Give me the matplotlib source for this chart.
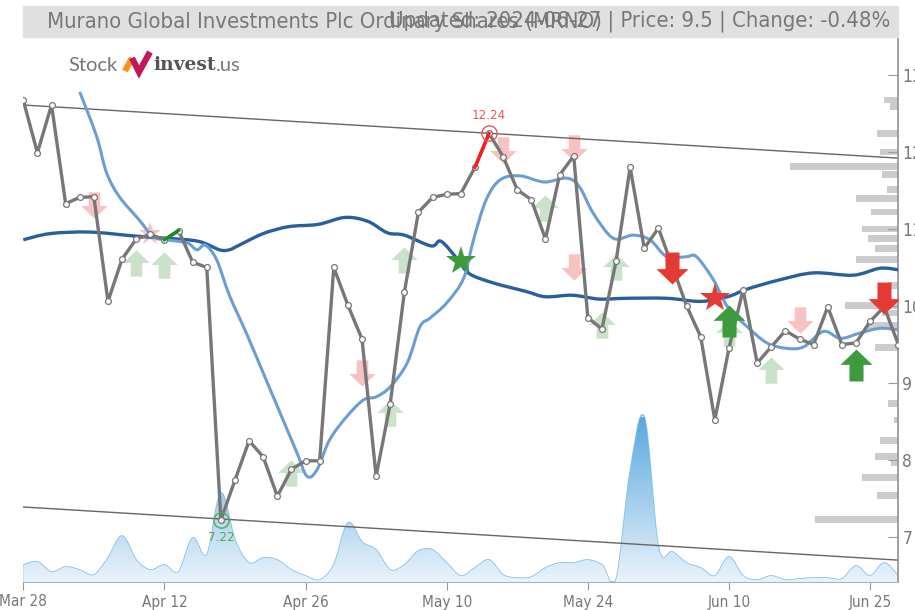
import numpy as np
import pandas as pd
import matplotlib
matplotlib.use('Agg')
import matplotlib.pyplot as plt
from matplotlib.path import Path
from matplotlib.patches import PathPatch, Rectangle
from matplotlib.lines import Line2D
from matplotlib.colors import LinearSegmentedColormap

# trading days on the chart (US market holidays removed)
dates = pd.bdate_range('2024-03-28', '2024-06-27')
dates = dates.drop(pd.to_datetime(['2024-03-29', '2024-05-27', '2024-06-19']))
tick_dates = ['2024-03-28', '2024-04-12', '2024-04-26', '2024-05-10',
              '2024-05-24', '2024-06-10', '2024-06-25']

close = [12.67, 11.99, 12.61, 11.33, 11.41, 11.42, 10.06, 10.61, 10.87, 10.93,
         10.86, 10.98, 10.57, 10.50, 7.22, 7.74, 8.25, 8.04, 7.53, 7.88,
         7.99, 7.99, 10.50, 10.01, 9.57, 7.79, 8.73, 10.18, 11.22, 11.41,
         11.45, 11.46, 11.80, 12.24, 11.94, 11.51, 11.38, 10.87, 11.70, 11.95,
         9.85, 9.70, 10.58, 11.80, 10.75, 11.01, 10.51, 10.00, 9.60, 8.52,
         9.45, 10.21, 9.26, 9.47, 9.68, 9.57, 9.50, 9.99, 9.50, 9.52,
         9.80, 9.99, 9.50]

# daily volume (relative units)
volume = [17, 20, 10, 15, 12, 7, 24, 46, 22, 12,
          17, 10, 44, 27, 89, 42, 19, 24, 22, 12,
          6, 2, 17, 59, 40, 32, 12, 17, 31, 32,
          19, 6, 14, 22, 7, 4, 5, 14, 19, 19,
          22, 17, 2, 110, 165, 35, 30, 19, 14, 6,
          25, 6, 2, 6, 2, 3, 4, 4, 3, 16,
          6, 19, 6]

# short moving average (sampled along the day index)
fast_x = [4.0, 5.2, 5.9, 6.8, 8.2, 9.2, 10.1, 11.6, 12.3, 12.9, 13.7, 14.6, 15.8,
          17.0, 18.2, 19.4, 20.1, 20.8, 21.7, 22.9, 24.1, 25.0, 26.0, 27.2, 28.1,
          28.8, 30.0, 31.2, 31.9, 32.8, 33.8, 35.2, 36.9, 38.5, 39.4, 40.4, 41.8,
          43.2, 44.4, 45.6, 47.0, 47.7, 48.9, 49.9, 51.3, 52.7, 54.1, 55.3, 56.7,
          57.9, 59.3, 60.7, 62.0]
fast_ma = [12.78, 12.20, 11.73, 11.42, 11.12, 10.90, 10.86, 10.82, 10.73, 10.79,
           10.60, 10.14, 9.65, 9.13, 8.61, 8.09, 7.79, 7.87, 8.26, 8.56, 8.78,
           8.82, 8.95, 9.26, 9.73, 9.84, 10.04, 10.36, 10.86, 11.38, 11.64, 11.69,
           11.61, 11.66, 11.55, 11.20, 10.88, 10.92, 10.86, 10.64, 10.64, 10.64,
           10.34, 9.99, 9.73, 9.52, 9.45, 9.47, 9.67, 9.58, 9.65, 9.71, 9.69]

# long moving average
slow_x = [0, 1.9, 4.7, 7.8, 10.1, 12.4, 13.9, 14.6, 15.3, 17.0, 18.8, 20.9, 22.8,
          24.4, 25.8, 27.0, 28.9, 29.6, 30.8, 31.6, 33.3, 35.6, 37.0, 38.9, 40.8,
          42.7, 45.6, 48.0, 49.9, 51.3, 53.6, 56.0, 58.8, 60.7, 62.0]
slow_ma = [10.86, 10.94, 10.96, 10.91, 10.88, 10.84, 10.73, 10.73, 10.79, 10.94,
           11.03, 11.06, 11.15, 11.10, 10.95, 10.92, 10.78, 10.84, 10.60, 10.42,
           10.30, 10.19, 10.12, 10.14, 10.09, 10.10, 10.10, 10.06, 10.12, 10.22,
           10.34, 10.43, 10.40, 10.49, 10.47]

# trend channel, value at first and last day
trend_upper = [12.61, 11.92]
trend_lower = [7.39, 6.70]

# volume by price
vp_price = [12.675, 12.59, 12.24, 12.00, 11.81, 11.71, 11.51, 11.40, 11.22, 11.00,
            10.88, 10.75, 10.60, 10.27, 10.01, 9.91, 9.75, 9.46, 8.73, 8.52,
            8.25, 8.05, 7.97, 7.77, 7.54, 7.23]
vp_volume = [14, 8, 21, 18, 109, 16, 11, 42, 27, 36,
             30, 23, 42, 10, 53, 16, 31, 23, 10, 4,
             18, 23, 7, 36, 21, 84]

# signals: day index and price level
up_strong_day = [50, 59]
up_strong_px = [9.80, 9.23]
down_strong_day = [46, 61]
down_strong_px = [10.49, 10.10]
up_weak_day = [8, 10, 19, 26, 27, 37, 41, 42, 50, 53]
up_weak_px = [10.56, 10.53, 7.83, 8.61, 10.60, 11.27, 9.75, 10.51, 9.65, 9.17]
down_weak_day = [5, 24, 34, 39, 39, 55]
down_weak_px = [11.31, 9.13, 12.03, 12.05, 10.51, 9.82]
star_buy_day, star_buy_px = [31], [10.58]
star_sell_day, star_sell_px = [49], [10.10]
star_sell_weak_day, star_sell_weak_px = [9], [10.93]

hi_day, lo_day = 33, 14

RED = '#e53935'
GREEN = '#3d9a3d'
GREY_TXT = '#777777'
NARROW = dict(family='DejaVu Sans', stretch='condensed')


def smooth_path(x, y, closed_base=None):
    # catmull-rom curve through the points, drawn as cubic bezier
    p = np.column_stack([x, y]).astype(float)
    verts = []
    codes = []
    if closed_base is not None:
        verts.append((p[0, 0], closed_base))
        codes.append(Path.MOVETO)
        verts.append(tuple(p[0]))
        codes.append(Path.LINETO)
    else:
        verts.append(tuple(p[0]))
        codes.append(Path.MOVETO)
    n = len(p)
    for i in range(n - 1):
        p0 = p[max(i - 1, 0)]
        p1 = p[i]
        p2 = p[i + 1]
        p3 = p[min(i + 2, n - 1)]
        c1 = p1 + (p2 - p0) / 6.0
        c2 = p2 - (p3 - p1) / 6.0
        verts += [tuple(c1), tuple(c2), tuple(p2)]
        codes += [Path.CURVE4] * 3
    if closed_base is not None:
        verts.append((p[-1, 0], closed_base))
        codes.append(Path.LINETO)
        verts.append((p[0, 0], closed_base))
        codes.append(Path.CLOSEPOLY)
    return Path(verts, codes)


up_arrow = Path([(-0.22, -0.5), (0.22, -0.5), (0.22, 0.02), (0.5, 0.02), (0, 0.5),
                 (-0.5, 0.02), (-0.22, 0.02), (-0.22, -0.5)],
                [Path.MOVETO] + [Path.LINETO] * 6 + [Path.CLOSEPOLY])
down_arrow = Path(up_arrow.vertices * [1, -1], up_arrow.codes)

days = np.arange(len(close))
x_max = days[-1]
ylo, yhi = 6.416, 13.48

fig = plt.figure(figsize=(9.15, 6.1), dpi=100)
pos = [23.3 / 915, 28 / 610, 875 / 915, 544 / 610]

# volume at the bottom
vax = fig.add_axes(pos)
vax.axis('off')
vax.set_xlim(0, x_max)
vmax = max(volume)
vax.set_ylim(0, vmax * 3.3)
vpath = smooth_path(days, volume, closed_base=0)
vpatch = PathPatch(vpath, facecolor='none', edgecolor='#86c0ea', lw=1.2)
vax.add_patch(vpatch)
vcmap = LinearSegmentedColormap.from_list('vol', ['#eaf3fb', '#5aa8df'])
grad = np.linspace(0, 1, 256).reshape(-1, 1)
img = vax.imshow(grad, extent=[0, x_max, 0, vmax], origin='lower', aspect='auto',
                 cmap=vcmap, zorder=1)
img.set_clip_path(vpatch)

# volume profile on the right
pax = fig.add_axes(pos)
pax.axis('off')
pax.set_ylim(ylo, yhi)
pax.barh(vp_price, vp_volume, height=0.088, color='#cccccc')
pax.set_xlim(max(vp_volume) * 8.05, 0)

# price panel
ax = fig.add_axes(pos)
ax.set_facecolor('none')
ax.set_xlim(0, x_max)
ax.set_ylim(ylo, yhi)

ax.plot([0, x_max], trend_upper, color='#666666', lw=1)
ax.plot([0, x_max], trend_lower, color='#666666', lw=1)

ax.add_patch(PathPatch(smooth_path(slow_x, slow_ma), facecolor='none',
                       edgecolor='#2a5f9e', lw=2.4, zorder=3))
ax.add_patch(PathPatch(smooth_path(fast_x, fast_ma), facecolor='none',
                       edgecolor='#6b9fd2', lw=2.2, zorder=3))

ax.plot(up_weak_day, up_weak_px, ls='none', marker=up_arrow, ms=19,
        color=GREEN, alpha=0.28, mew=0, zorder=2)
ax.plot(down_weak_day, down_weak_px, ls='none', marker=down_arrow, ms=19,
        color=RED, alpha=0.3, mew=0, zorder=2)
ax.plot(star_sell_weak_day, star_sell_weak_px, ls='none', marker='*', ms=17,
        color=RED, alpha=0.3, mew=0, zorder=2)

ax.plot(days, close, color='#777777', lw=2.4, marker='o', ms=4.2,
        mfc='white', mec='#777777', mew=0.9, zorder=4)
ax.plot(days[10:12], close[10:12], color='#1e8c1e', lw=2.4, zorder=4)
ax.plot(days[32:34], close[32:34], color='#ff1a1a', lw=2.4, zorder=4)

ax.plot(up_strong_day, up_strong_px, ls='none', marker=up_arrow, ms=23,
        color=GREEN, mew=0, zorder=6)
ax.plot(down_strong_day, down_strong_px, ls='none', marker=down_arrow, ms=23,
        color=RED, mew=0, zorder=6)
ax.plot(star_buy_day, star_buy_px, ls='none', marker='*', ms=22,
        color=GREEN, mew=0, zorder=6)
ax.plot(star_sell_day, star_sell_px, ls='none', marker='*', ms=22,
        color=RED, mew=0, zorder=6)

# high / low circles
ax.plot(hi_day, close[hi_day], ls='none', marker='o', ms=11, mfc='none',
        mec='#e05a5a', mew=1, zorder=5)
ax.annotate('%.2f' % close[hi_day], (hi_day, close[hi_day]), xytext=(0, 8),
            textcoords='offset points', ha='center', va='bottom',
            color='#f05555', fontsize=9.5, **NARROW)
ax.plot(lo_day, close[lo_day], ls='none', marker='o', ms=11, mfc='none',
        mec='#4caf50', mew=1, zorder=5)
ax.annotate('%.2f' % close[lo_day], (lo_day, close[lo_day]), xytext=(0, -8),
            textcoords='offset points', ha='center', va='top',
            color='#4caf50', fontsize=9.5, **NARROW)

# axes styling
for s in ['left', 'top']:
    ax.spines[s].set_visible(False)
ax.spines['right'].set_color('#999999')
ax.spines['bottom'].set_color('#9ab8d0')
ax.spines['right'].set_linewidth(1.3)
ax.yaxis.tick_right()
ax.set_yticks(range(7, 14))
ax.tick_params(axis='y', direction='in', length=7, pad=3, color='#999999',
               labelcolor=GREY_TXT, labelsize=12.5)
tick_pos = [dates.get_loc(pd.Timestamp(d)) for d in tick_dates]
ax.set_xticks(tick_pos)
ax.set_xticklabels([pd.Timestamp(d).strftime('%b %d') for d in tick_dates])
ax.tick_params(axis='x', direction='out', length=6, pad=3, color='#999999',
               labelcolor=GREY_TXT, labelsize=11)
for lab in ax.get_xticklabels() + ax.get_yticklabels():
    lab.set_family('DejaVu Sans')
    lab.set_stretch('condensed')

# title bar
fig.patches.append(Rectangle((23.3 / 915, 1 - 37 / 610), 875 / 915, 31 / 610,
                             transform=fig.transFigure, color='#e0e0e0', zorder=0))
fig.text(47 / 915, 1 - 21.5 / 610, 'Murano Global Investments Plc Ordinary Shares (MRNO)',
         ha='left', va='center', color=GREY_TXT, fontsize=15.8, **NARROW)
fig.text(890 / 915, 1 - 21.5 / 610, 'Updated: 2024-06-27 | Price: 9.5 | Change: -0.48%',
         ha='right', va='center', color=GREY_TXT, fontsize=15.8, **NARROW)

# logo
t1 = fig.text(68 / 915, 1 - 74 / 610, 'Stock', color='#777777', fontsize=14.5,
              family='Lato', va='bottom')
fig.add_artist(Line2D([125 / 915, 132 / 915], [1 - 71 / 610, 1 - 58 / 610],
                      transform=fig.transFigure, color='#f7931e', lw=4.5,
                      solid_capstyle='butt'))
fig.add_artist(Line2D([132 / 915, 139 / 915, 150 / 915],
                      [1 - 58 / 610, 1 - 72 / 610, 1 - 52 / 610],
                      transform=fig.transFigure, color='#c2185b', lw=4.5,
                      solid_capstyle='butt', solid_joinstyle='miter'))
t2 = fig.text(153 / 915, 1 - 74 / 610, 'invest', color='#555555', fontsize=13.5,
              family='DejaVu Serif', weight='bold', va='bottom')
plt.annotate('.us', xy=(1, 0), xycoords=t2, xytext=(0, 0), textcoords='offset points',
             color='#777777', fontsize=14.5, family='Lato', va='bottom')

fig.savefig('out.png', dpi=100)
